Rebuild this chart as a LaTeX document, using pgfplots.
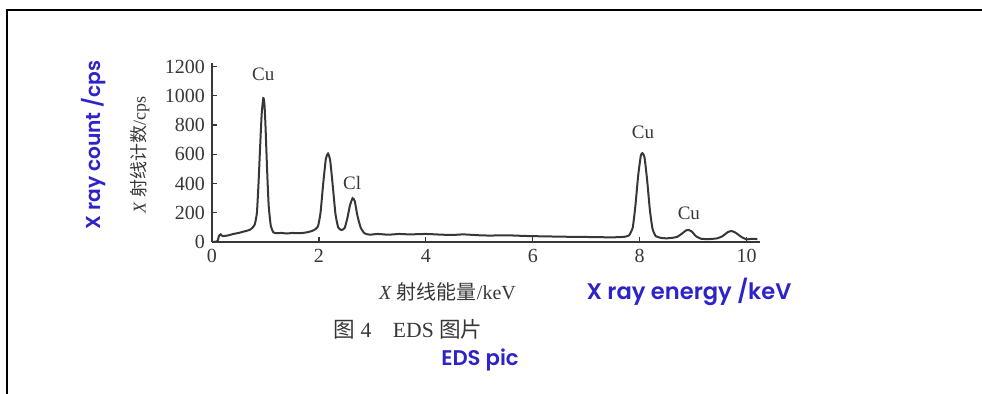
\documentclass[border=0pt]{standalone}
\usepackage{pgfplots}
\pgfplotsset{compat=1.18}
\usepackage{fontspec}
\setmainfont{Liberation Serif}
\newfontfamily\cjk{Noto Sans CJK SC}
\newfontfamily\geo{Poppins}[UprightFont=* SemiBold]
\definecolor{ink}{RGB}{55,55,55}
\definecolor{blu}{RGB}{45,35,200}
\begin{document}
\begin{tikzpicture}
\path[use as bounding box] (0,0) rectangle (491pt,-197pt);
\draw[line width=1.2pt] (3.5pt,-197pt) -- (3.5pt,-5pt) -- (491pt,-5pt);
\begin{axis}[at={(106pt,-121pt)}, anchor=south west, scale only axis,
  width=274pt, height=89.5pt, xmin=0, xmax=10.25, ymin=0, ymax=1225,
  axis lines*=left, axis line style={-, ink, line width=0.7pt},
  tick style={ink, line width=0.6pt}, tick align=inside, major tick length=2.5pt,
  xtick={0,2,...,10}, ytick={0,200,...,1200},
  ticklabel style={font=\fontsize{10}{11}\selectfont, text=ink},
  /pgf/number format/assume math mode=true, /pgf/number format/1000 sep={},
  clip=false]
\addplot[ink, line width=1pt, smooth, tension=0.3] coordinates {
(0,0) (0.1,5) (0.13,40) (0.16,52) (0.2,40) (0.3,45) (0.4,55) (0.5,62) (0.6,72)
(0.7,82) (0.75,95) (0.8,120) (0.84,200) (0.87,400) (0.9,650) (0.93,880) (0.96,985)
(0.98,950) (1.0,800) (1.03,500) (1.06,250) (1.1,110) (1.15,65) (1.2,60) (1.3,62)
(1.4,58) (1.5,62) (1.6,60) (1.7,62) (1.8,68) (1.9,80) (1.98,105) (2.03,200)
(2.08,400) (2.13,570) (2.17,605) (2.21,560) (2.26,380) (2.31,190) (2.36,100)
(2.42,82) (2.48,95) (2.53,160) (2.58,250) (2.63,300) (2.67,280) (2.72,180)
(2.78,100) (2.85,60) (2.95,50) (3.1,55) (3.3,50) (3.5,55) (3.7,52) (4.0,55)
(4.3,50) (4.5,48) (4.7,52) (5.0,46) (5.2,44) (5.5,46) (5.8,42) (6.0,40) (6.3,38)
(6.6,36) (6.9,35) (7.2,33) (7.5,32) (7.7,35) (7.8,45) (7.87,100) (7.92,250)
(7.97,450) (8.02,590) (8.05,608) (8.09,580) (8.14,420) (8.19,220) (8.24,90)
(8.3,40) (8.4,28) (8.5,25) (8.6,28) (8.7,35) (8.8,60) (8.87,80) (8.92,82)
(8.98,70) (9.05,40) (9.15,22) (9.3,20) (9.45,25) (9.55,40) (9.65,68) (9.72,75)
(9.8,62) (9.9,35) (10.0,18) (10.1,22) (10.2,20)
};
\node[ink, font=\fontsize{9.5}{10}\selectfont] at (axis cs:0.96,1145) {Cu};
\node[ink, font=\fontsize{9.5}{10}\selectfont] at (axis cs:2.62,405) {Cl};
\node[ink, font=\fontsize{9.5}{10}\selectfont] at (axis cs:8.06,748) {Cu};
\node[ink, font=\fontsize{9.5}{10}\selectfont] at (axis cs:8.92,199) {Cu};
\end{axis}
\node[rotate=90, blu, font=\geo\fontsize{10.1}{12}\selectfont] at (47pt,-72.5pt) {X ray count /cps};
\node[rotate=90, ink, font=\fontsize{9}{10}\selectfont] at (70pt,-77.5pt) {\textit{X} {\cjk 射线计数}/cps};
\node[ink, font=\fontsize{10}{11}\selectfont] at (223.75pt,-146pt) {\textit{X} {\cjk 射线能量}/keV};
\node[blu, font=\geo\fontsize{11.3}{13}\selectfont] at (344.5pt,-146pt) {X ray energy /keV};
\node[ink, font=\fontsize{10.8}{12}\selectfont] at (204pt,-164.5pt) {{\cjk 图} 4\quad EDS {\cjk 图片}};
\node[blu, font=\geo\fontsize{10.6}{12}\selectfont] at (240pt,-180pt) {EDS pic};
\end{tikzpicture}
\end{document}
